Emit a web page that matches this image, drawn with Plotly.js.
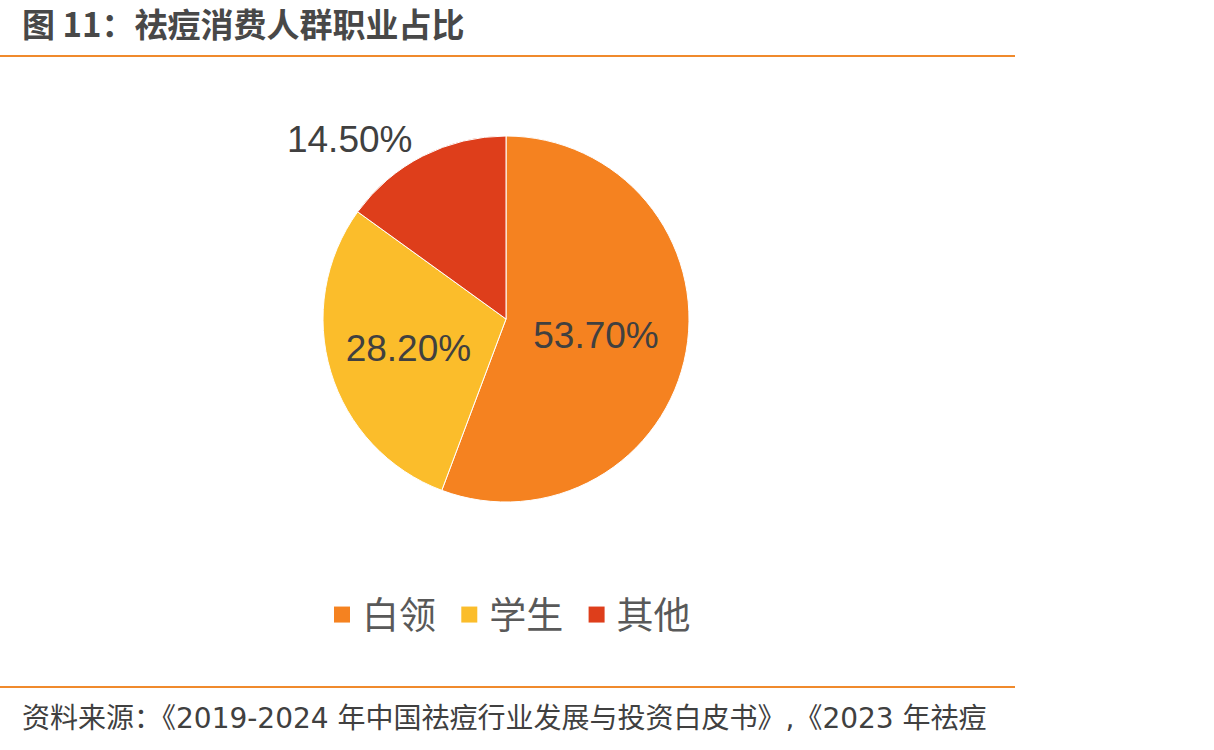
<!DOCTYPE html>
<html>
<head>
<meta charset="utf-8">
<script src="https://cdn.plot.ly/plotly-3.0.1.min.js"></script>
<style>html,body{margin:0;padding:0;background:#fff;}#chart{width:1214px;height:750px;}</style>
</head>
<body>
<div id="chart"></div>
<script>
const categories = ['白领', '学生', '其他'];
const values = [53.7, 28.2, 14.5];
const colors = ['#F58220', '#FBBD2B', '#DE3E1B'];
const textPositions = ['inside', 'inside', 'outside'];
const titleText = '图 11：祛痘消费人群职业占比';
const sourceText = '资料来源：《2019-2024 年中国祛痘行业发展与投资白皮书》,《2023 年祛痘';

const W = 1214, H = 750;
const cx = 506, cy = 319, r = 183;

const pie = {
  type: 'pie',
  labels: categories,
  values: values,
  sort: false,
  direction: 'clockwise',
  rotation: 0,
  showlegend: false,
  marker: {colors: colors, line: {color: '#ffffff', width: 1}},
  texttemplate: '%{value:.2f}%',
  textposition: textPositions,
  insidetextorientation: 'horizontal',
  textfont: {family: 'Liberation Sans, Arial, sans-serif', size: 37, color: '#404040'},
  outsidetextfont: {family: 'Liberation Sans, Arial, sans-serif', size: 37, color: '#404040'},
  hoverinfo: 'label+percent',
  domain: {x: [(cx - r) / W, (cx + r) / W], y: [(H - cy - r) / H, (H - cy + r) / H]}
};

// legend entries (square swatches) built from the same categories/colours
const legendTraces = categories.map((c, i) => ({
  type: 'scatter', mode: 'markers', x: [null], y: [null], name: c + '\u00a0',
  marker: {symbol: 'square', size: 18, color: colors[i]},
  hoverinfo: 'skip', showlegend: true
}));

const layout = {
  width: W, height: H,
  margin: {l: 0, r: 0, t: 0, b: 0},
  paper_bgcolor: '#ffffff',
  plot_bgcolor: 'rgba(0,0,0,0)',
  showlegend: true,
  xaxis: {visible: false, domain: [0.99, 1]},
  yaxis: {visible: false, domain: [0.99, 1]},
  legend: {
    orientation: 'h',
    x: 513 / W, xanchor: 'center',
    y: 1 - 615 / H, yanchor: 'middle',
    font: {family: 'Noto Sans CJK SC, sans-serif', size: 37, color: '#595959'},
    itemsizing: 'trace',
    traceorder: 'normal',
    itemclick: false, itemdoubleclick: false
  },
  shapes: [
    {type: 'line', xref: 'paper', yref: 'paper', x0: 0, x1: 1015 / W, y0: 1 - 56 / H, y1: 1 - 56 / H, line: {color: '#F08A2C', width: 2}},
    {type: 'line', xref: 'paper', yref: 'paper', x0: 0, x1: 1015 / W, y0: 1 - 687 / H, y1: 1 - 687 / H, line: {color: '#F08A2C', width: 2}}
  ],
  annotations: [
    {text: '<b>' + titleText + '</b>', xref: 'paper', yref: 'paper', x: 20 / W, y: 1 - 23 / H, xanchor: 'left', yanchor: 'middle', showarrow: false,
     font: {family: 'Noto Sans CJK SC, sans-serif', size: 33, color: '#484848'}},
    {text: sourceText, xref: 'paper', yref: 'paper', x: 20 / W, y: 1 - 718 / H, xanchor: 'left', yanchor: 'middle', showarrow: false,
     font: {family: 'DejaVu Sans, Noto Sans CJK SC, sans-serif', size: 28, color: '#404040'}}
  ]
};

Plotly.newPlot('chart', [pie].concat(legendTraces), layout, {displayModeBar: false, responsive: false});
</script>
</body>
</html>
